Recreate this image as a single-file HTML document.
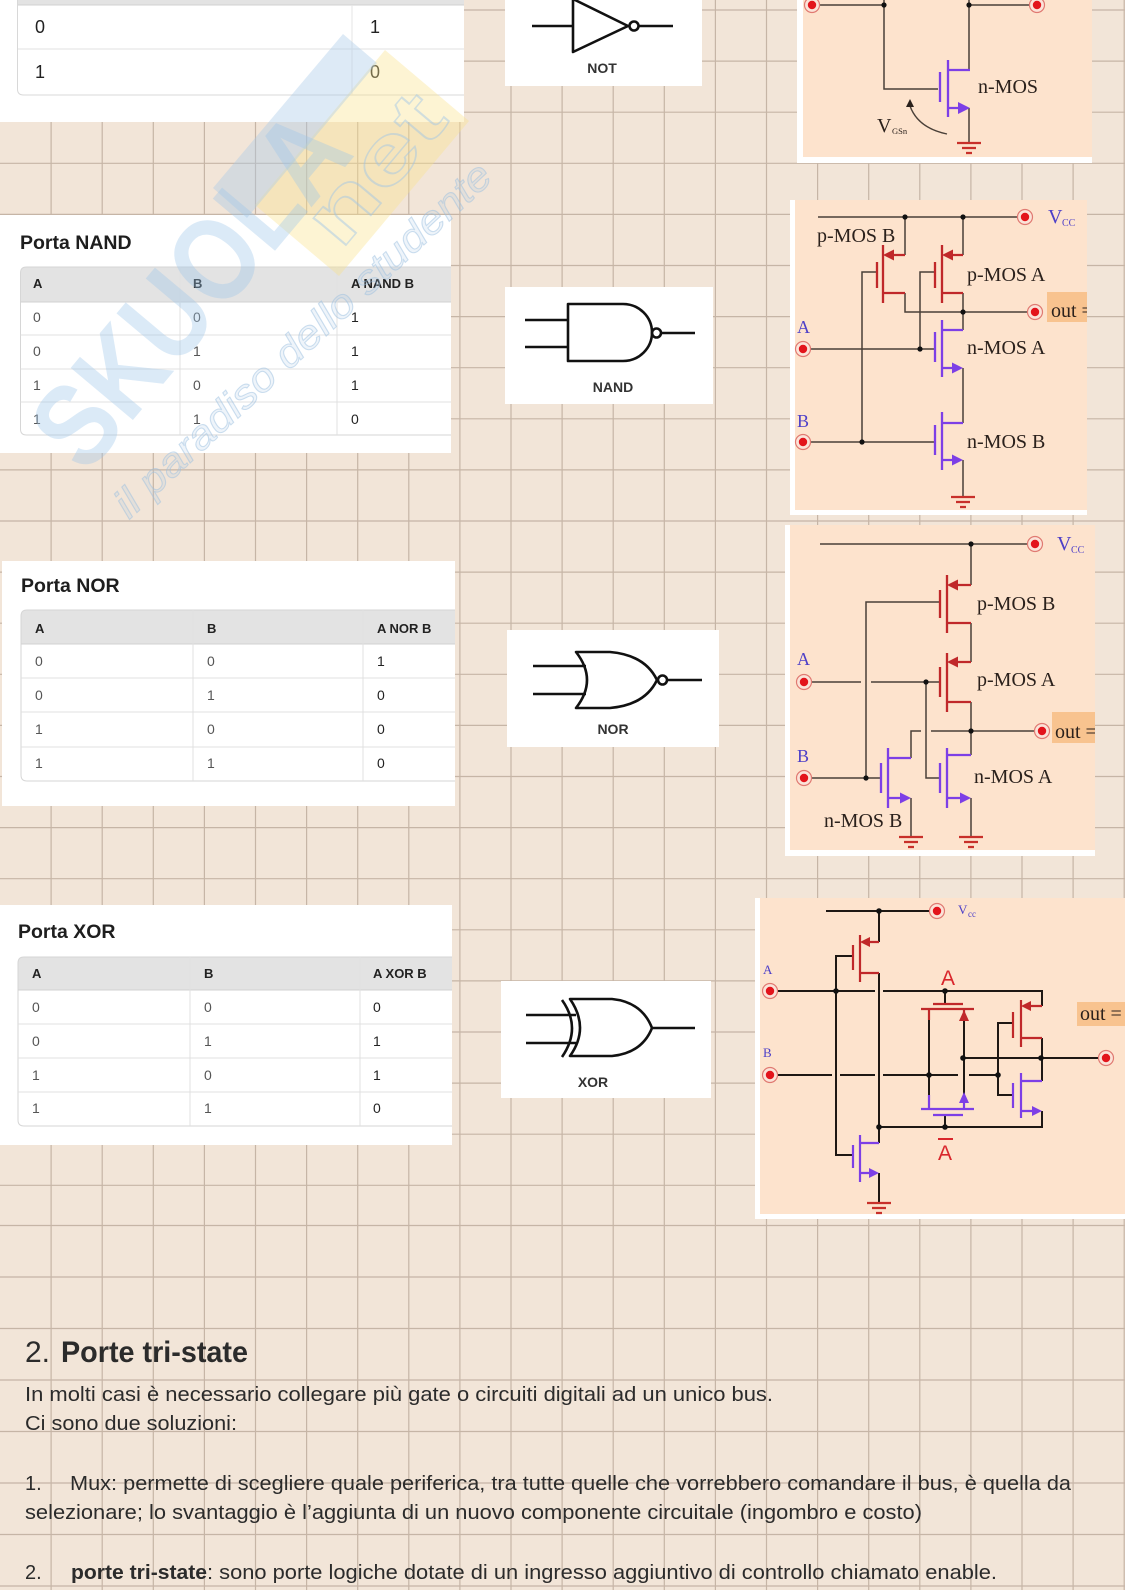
<!DOCTYPE html>
<html><head><meta charset="utf-8"><style>
html,body{margin:0;padding:0;background:#f2e5d8;}
svg{display:block}
</style></head><body>
<svg width="1125" height="1590" viewBox="0 0 1125 1590" xmlns="http://www.w3.org/2000/svg" font-family="'Liberation Sans', Arial, sans-serif">
<defs>
<g id="term"><circle r="7.5" fill="#fbe3d8" stroke="#e07a72" stroke-width="1.2"/><circle r="4.2" fill="#e3141b"/></g>
<g id="gnd"><path d="M-12,0H12M-7,5H7M-3,10H3" stroke="#c8302a" stroke-width="2.2" fill="none"/></g>
<clipPath id="c2"><rect x="795" y="200" width="292" height="310"/></clipPath>
<clipPath id="c3"><rect x="790" y="525" width="305" height="325"/></clipPath>
</defs>
<rect width="1125" height="1590" fill="#f2e5d8"/>
<g stroke="#c6b5a6" stroke-width="1.2" fill="none">
<path d="M51.1,0V1590M102.2,0V1590M153.3,0V1590M204.4,0V1590M255.5,0V1590M306.6,0V1590M357.7,0V1590M408.8,0V1590M459.9,0V1590M511,0V1590M562.1,0V1590M613.2,0V1590M664.3,0V1590M715.4,0V1590M766.5,0V1590M817.6,0V1590M868.7,0V1590M919.8,0V1590M970.9,0V1590M1022,0V1590M1073.1,0V1590M1124.2,0V1590"/>
<path d="M0,10H1125M0,61.1H1125M0,112.2H1125M0,163.3H1125M0,214.4H1125M0,265.5H1125M0,316.6H1125M0,367.7H1125M0,418.8H1125M0,469.9H1125M0,521H1125M0,572.1H1125M0,623.2H1125M0,674.3H1125M0,725.4H1125M0,776.5H1125M0,827.6H1125M0,878.7H1125M0,929.8H1125M0,980.9H1125M0,1032H1125M0,1083.1H1125M0,1134.2H1125M0,1185.3H1125"/>
<path d="M0,1225.5H1125M0,1277H1125M0,1328.5H1125M0,1380H1125M0,1431.5H1125M0,1483H1125M0,1534.5H1125M0,1586H1125"/>
</g>

<!-- NOT table -->
<rect x="0" y="0" width="464" height="122" fill="#fff"/>
<rect x="18" y="0" width="446" height="5" fill="#e3e3e3"/>
<path d="M17.5,0V89Q17.5,95 23.5,95H464" fill="none" stroke="#d8d8d8"/>
<line x1="18" y1="5" x2="464" y2="5" stroke="#d2d2d2"/>
<line x1="18" y1="49" x2="464" y2="49" stroke="#e2e2e2"/>
<line x1="352" y1="5" x2="352" y2="95" stroke="#e6e6e6"/>
<g font-size="18" fill="#222"><text x="35" y="33">0</text><text x="370" y="33">1</text><text x="35" y="78">1</text><text x="370" y="78">0</text></g>

<!-- NAND table -->
<rect x="0" y="215" width="451" height="238" fill="#fff"/>
<text x="20" y="249" font-size="19.5" font-weight="bold" fill="#1e1e1e">Porta NAND</text>
<path d="M26.5,267H451V302H20.5V273Q20.5,267 26.5,267Z" fill="#e3e3e3"/>
<path d="M451,267H26.5Q20.5,267 20.5,273V429Q20.5,435 26.5,435H451" fill="none" stroke="#d6d6d6"/>
<g stroke="#e0e0e0"><line x1="20.5" y1="302" x2="451" y2="302" stroke="#d2d2d2"/><line x1="20.5" y1="335" x2="451" y2="335"/><line x1="20.5" y1="369" x2="451" y2="369"/><line x1="20.5" y1="402" x2="451" y2="402"/><line x1="180" y1="267" x2="180" y2="435"/><line x1="337" y1="267" x2="337" y2="435"/></g>
<g font-size="13" font-weight="bold" fill="#222"><text x="33" y="288">A</text><text x="193" y="288">B</text><text x="351" y="288">A NAND B</text></g>
<g font-size="14" fill="#555"><text x="33" y="322">0</text><text x="193" y="322">0</text><text x="33" y="356">0</text><text x="193" y="356">1</text><text x="33" y="390">1</text><text x="193" y="390">0</text><text x="33" y="424">1</text><text x="193" y="424">1</text></g>
<g font-size="14" fill="#222"><text x="351" y="322">1</text><text x="351" y="356">1</text><text x="351" y="390">1</text><text x="351" y="424">0</text></g>

<!-- NOR table -->
<rect x="2" y="561" width="453" height="245" fill="#fff"/>
<text x="21" y="592" font-size="19.5" font-weight="bold" fill="#1e1e1e">Porta NOR</text>
<path d="M27,610H455V644H21V616Q21,610 27,610Z" fill="#e3e3e3"/>
<path d="M455,610H27Q21,610 21,616V775Q21,781 27,781H455" fill="none" stroke="#d6d6d6"/>
<g stroke="#e0e0e0"><line x1="21" y1="644" x2="455" y2="644" stroke="#d2d2d2"/><line x1="21" y1="678" x2="455" y2="678"/><line x1="21" y1="712" x2="455" y2="712"/><line x1="21" y1="747" x2="455" y2="747"/><line x1="193" y1="610" x2="193" y2="781"/><line x1="363" y1="610" x2="363" y2="781"/></g>
<g font-size="13" font-weight="bold" fill="#222"><text x="35" y="633">A</text><text x="207" y="633">B</text><text x="377" y="633">A NOR B</text></g>
<g font-size="14" fill="#555"><text x="35" y="666">0</text><text x="207" y="666">0</text><text x="35" y="700">0</text><text x="207" y="700">1</text><text x="35" y="734">1</text><text x="207" y="734">0</text><text x="35" y="768">1</text><text x="207" y="768">1</text></g>
<g font-size="14" fill="#222"><text x="377" y="666">1</text><text x="377" y="700">0</text><text x="377" y="734">0</text><text x="377" y="768">0</text></g>

<!-- XOR table -->
<rect x="0" y="905" width="452" height="240" fill="#fff"/>
<text x="18" y="938" font-size="19.5" font-weight="bold" fill="#1e1e1e">Porta XOR</text>
<path d="M24,957H452V990H18V963Q18,957 24,957Z" fill="#e3e3e3"/>
<path d="M452,957H24Q18,957 18,963V1120Q18,1126 24,1126H452" fill="none" stroke="#d6d6d6"/>
<g stroke="#e0e0e0"><line x1="18" y1="990" x2="452" y2="990" stroke="#d2d2d2"/><line x1="18" y1="1024" x2="452" y2="1024"/><line x1="18" y1="1058" x2="452" y2="1058"/><line x1="18" y1="1092" x2="452" y2="1092"/><line x1="190" y1="957" x2="190" y2="1126"/><line x1="360" y1="957" x2="360" y2="1126"/></g>
<g font-size="13" font-weight="bold" fill="#222"><text x="32" y="978">A</text><text x="204" y="978">B</text><text x="373" y="978">A XOR B</text></g>
<g font-size="14" fill="#555"><text x="32" y="1012">0</text><text x="204" y="1012">0</text><text x="32" y="1046">0</text><text x="204" y="1046">1</text><text x="32" y="1080">1</text><text x="204" y="1080">0</text><text x="32" y="1113">1</text><text x="204" y="1113">1</text></g>
<g font-size="14" fill="#222"><text x="373" y="1012">0</text><text x="373" y="1046">1</text><text x="373" y="1080">1</text><text x="373" y="1113">0</text></g>

<!-- Gate symbols -->
<rect x="505" y="0" width="197" height="86" fill="#fff"/>
<g stroke="#111" stroke-width="2.6" fill="none" stroke-linejoin="round">
<path d="M532,26H573M573,-1V52L628,26Z"/><circle cx="634" cy="26" r="4.5"/><path d="M638.5,26H673"/>
</g>
<text x="602" y="73" font-size="14" font-weight="bold" fill="#333" text-anchor="middle">NOT</text>

<rect x="505" y="287" width="208" height="117" fill="#fff"/>
<g stroke="#111" stroke-width="2.6" fill="none" stroke-linejoin="round">
<path d="M525,320H568M525,347H568M568,304H623A29,28.5 0 0 1 623,361H568Z"/><circle cx="656.5" cy="333" r="4.5"/><path d="M661,333H695"/>
</g>
<text x="613" y="392" font-size="14" font-weight="bold" fill="#333" text-anchor="middle">NAND</text>

<rect x="507" y="630" width="212" height="117" fill="#fff"/>
<g stroke="#111" stroke-width="2.6" fill="none" stroke-linejoin="round">
<path d="M533,666H586M533,694H586M576,652Q598,680 576,708L610,708Q645,705 657,680Q645,655 610,652Z"/><circle cx="662.5" cy="680" r="4.5"/><path d="M667,680H702"/>
</g>
<text x="613" y="734" font-size="14" font-weight="bold" fill="#333" text-anchor="middle">NOR</text>

<rect x="501" y="981" width="210" height="117" fill="#fff"/>
<g stroke="#111" stroke-width="2.6" fill="none" stroke-linejoin="round">
<path d="M526,1015H576M526,1043H576M562,1000Q582,1028 562,1057M570,999Q590,1028 570,1056L612,1056Q642,1053 652,1028Q642,1002 612,999Z"/><path d="M652,1028H695"/>
</g>
<text x="593" y="1087" font-size="14" font-weight="bold" fill="#333" text-anchor="middle">XOR</text>

<!-- Circuit 1: NOT nMOS -->
<rect x="797" y="0" width="295" height="163" fill="#fff"/>
<rect x="803" y="0" width="289" height="157" fill="#fde3cd"/>
<path d="M812,5H884M884,0V89H938M969,0V70M969,108V143M969,5H1037" stroke="#4a4038" stroke-width="1.5" fill="none"/>
<path d="M940,72V102M948,60V117M948,70H970M948,108H960" stroke="#7d3fe6" stroke-width="2.3" fill="none"/>
<polygon points="958,102 970,108 958,114" fill="#7d3fe6"/>
<use href="#gnd" x="969" y="143"/>
<circle cx="884" cy="5" r="2.6" fill="#111"/><circle cx="969" cy="5" r="2.6" fill="#111"/>
<use href="#term" x="812" y="5"/><use href="#term" x="1037" y="5"/>
<path d="M947,134Q918,128 910,106" stroke="#4a4038" stroke-width="1.4" fill="none"/>
<polygon points="906,107 910,99 914,107" fill="#2a211c"/>
<g font-family="'Liberation Serif', 'Times New Roman', serif" fill="#2b211c">
<text x="978" y="93" font-size="20">n-MOS</text>
<text x="877" y="132" font-size="20">V</text><text x="892" y="134" font-size="8.5">GSn</text>
</g>

<!-- Circuit 2: NAND CMOS -->
<rect x="790" y="200" width="297" height="315" fill="#fff"/>
<rect x="795" y="200" width="292" height="310" fill="#fde3cd"/>
<g clip-path="url(#c2)"><rect x="1047" y="292" width="45" height="30" fill="#f8c38f"/><text x="1051" y="317" font-size="20" font-family="'Liberation Serif', serif" fill="#2b211c">out =</text></g>
<path d="M818,217H1025M905,217V255M963,217V255M877,272H862V442M905,293V312H963M963,293V330M935,272H920V349M810,349H935M963,368V423M810,442H935M963,460V497M963,312H1035" stroke="#4a4038" stroke-width="1.5" fill="none"/>
<path d="M905,255H890M883,245V303M877,262V288M883,293H905M963,255H949M942,245V303M935,262V288M942,293H963" stroke="#c0282a" stroke-width="2.3" fill="none"/>
<polygon points="883,255 894,249.5 894,260.5" fill="#c0282a"/><polygon points="942,255 953,249.5 953,260.5" fill="#c0282a"/>
<path d="M963,330H942M942,320V377M935,332V362M942,368H953M963,423H942M942,412V470M935,425V455M942,460H953" stroke="#7d3fe6" stroke-width="2.3" fill="none"/>
<polygon points="952,362.5 963,368 952,373.5" fill="#7d3fe6"/><polygon points="952,454.5 963,460 952,465.5" fill="#7d3fe6"/>
<use href="#gnd" x="963" y="497"/>
<g fill="#111"><circle cx="905" cy="217" r="2.6"/><circle cx="963" cy="217" r="2.6"/><circle cx="963" cy="312" r="2.6"/><circle cx="920" cy="349" r="2.6"/><circle cx="862" cy="442" r="2.6"/></g>
<use href="#term" x="1025" y="217"/><use href="#term" x="1035" y="312"/><use href="#term" x="803" y="349"/><use href="#term" x="803" y="442"/>
<g font-family="'Liberation Serif', 'Times New Roman', serif" fill="#2b211c" font-size="20">
<text x="817" y="242">p-MOS B</text><text x="967" y="281">p-MOS A</text><text x="967" y="354">n-MOS A</text><text x="967" y="448">n-MOS B</text>
</g>
<g font-family="'Liberation Serif', serif" fill="#4d3fc8"><text x="797" y="333" font-size="18">A</text><text x="797" y="427" font-size="18">B</text><text x="1048" y="223" font-size="20">V</text><text x="1062" y="226" font-size="10">CC</text></g>

<!-- Circuit 3: NOR CMOS -->
<rect x="785" y="525" width="310" height="331" fill="#fff"/>
<rect x="790" y="525" width="305" height="325" fill="#fde3cd"/>
<g clip-path="url(#c3)"><rect x="1052" y="712" width="45" height="31" fill="#f8c38f"/><text x="1055" y="738" font-size="20" font-family="'Liberation Serif', serif" fill="#2b211c">out =</text></g>
<path d="M820,544H1035M971,544V585M940,602H866V778M971,623V662M809,682H861M871,682H940M971,702V731M911,758V731H921M931,731H971M971,731V755M926,682V778H940M971,798V837M809,778H881M911,798V837M971,731H1042" stroke="#4a4038" stroke-width="1.5" fill="none"/>
<path d="M971,585H954M947,575V633M940,590V618M947,623H971M971,662H954M947,653V712M940,667V697M947,702H971" stroke="#c0282a" stroke-width="2.3" fill="none"/>
<polygon points="947,585 958,579.5 958,590.5" fill="#c0282a"/><polygon points="947,662 958,656.5 958,667.5" fill="#c0282a"/>
<path d="M971,755H947M947,748V808M940,763V793M947,798H960M888,758H911M888,748V808M881,763V793M888,798H900" stroke="#7d3fe6" stroke-width="2.3" fill="none"/>
<polygon points="960,792.5 971,798 960,803.5" fill="#7d3fe6"/><polygon points="900,792.5 911,798 900,803.5" fill="#7d3fe6"/>
<use href="#gnd" x="971" y="837"/><use href="#gnd" x="911" y="837"/>
<g fill="#111"><circle cx="971" cy="544" r="2.6"/><circle cx="926" cy="682" r="2.6"/><circle cx="971" cy="731" r="2.6"/><circle cx="866" cy="778" r="2.6"/></g>
<use href="#term" x="1035" y="544"/><use href="#term" x="1042" y="731"/><use href="#term" x="804" y="682"/><use href="#term" x="804" y="778"/>
<g font-family="'Liberation Serif', 'Times New Roman', serif" fill="#2b211c" font-size="20">
<text x="977" y="610">p-MOS B</text><text x="977" y="686">p-MOS A</text><text x="974" y="783">n-MOS A</text><text x="824" y="827">n-MOS B</text>
</g>
<g font-family="'Liberation Serif', serif" fill="#4d3fc8"><text x="797" y="665" font-size="18">A</text><text x="797" y="762" font-size="18">B</text><text x="1057" y="550" font-size="20">V</text><text x="1071" y="553" font-size="10">CC</text></g>

<!-- Circuit 4: XOR -->
<rect x="755" y="898" width="370" height="321" fill="#fff"/>
<rect x="760" y="898" width="365" height="316" fill="#fde3cd"/>
<rect x="1077" y="1002" width="48" height="24" fill="#f8c38f"/>
<text x="1080" y="1020" font-size="20" font-family="'Liberation Serif', serif" fill="#2b211c">out =</text>
<path d="M826,911H937M879,911V942M853,956H836V1155H853M879,973V1143M777,991H875M883,991H1042V1006M1013,1023H998V1095H1013M1042,1038V1081M963,1058H1100M1042,1111V1127H879M777,1075H832M840,1075H875M883,1075H958M969,1075H998M945,991V1004M945,1115V1127M929,1020V1095M964,1020V1095M879,1173V1203" stroke="#1e1814" stroke-width="2" fill="none"/>
<path d="M879,942H867M860,935V982M853,945V970M860,973H879M1042,1006H1028M1021,1000V1047M1013,1012V1038M1021,1038H1042M921,1009H974M933,1004H963M929,1009V1020M964,1018V1009" stroke="#c0282a" stroke-width="2.2" fill="none"/>
<polygon points="860,942 870,937 870,947" fill="#c0282a"/><polygon points="1021,1006 1031,1001 1031,1011" fill="#c0282a"/><polygon points="959,1021 964,1010 969,1021" fill="#c0282a"/>
<path d="M1042,1081H1021M1021,1073V1118M1013,1083V1108M1021,1111H1032M921,1109H974M933,1115H963M929,1095V1109M964,1100V1109M879,1143H860M860,1135V1182M853,1145V1168M860,1173H869" stroke="#7d3fe6" stroke-width="2.2" fill="none"/>
<polygon points="1032,1106 1042,1111 1032,1116" fill="#7d3fe6"/><polygon points="959,1103 964,1092 969,1103" fill="#7d3fe6"/><polygon points="869,1168 879,1173 869,1178" fill="#7d3fe6"/>
<use href="#gnd" x="879" y="1203"/>
<g fill="#111"><circle cx="879" cy="911" r="2.8"/><circle cx="836" cy="991" r="2.8"/><circle cx="945" cy="991" r="2.8"/><circle cx="929" cy="1075" r="2.8"/><circle cx="998" cy="1075" r="2.8"/><circle cx="963" cy="1058" r="2.8"/><circle cx="1041" cy="1058" r="2.8"/><circle cx="879" cy="1127" r="2.8"/><circle cx="945" cy="1127" r="2.8"/></g>
<use href="#term" x="937" y="911"/><use href="#term" x="770" y="991"/><use href="#term" x="770" y="1075"/><use href="#term" x="1106" y="1058"/>
<g fill="#d9262c" font-size="21"><text x="948" y="985" text-anchor="middle">A</text><text x="945" y="1160" text-anchor="middle">A</text></g>
<line x1="938" y1="1139" x2="953" y2="1139" stroke="#d9262c" stroke-width="2"/>
<g font-family="'Liberation Serif', serif" fill="#4d3fc8"><text x="763" y="974" font-size="13">A</text><text x="763" y="1057" font-size="13">B</text><text x="958" y="914" font-size="13">V</text><text x="968" y="917" font-size="9">cc</text></g>

<!-- Bottom text -->
<g fill="#2b2b2b">
<text x="25" y="1362" font-size="30">2.</text>
<text x="61" y="1362" font-size="30" font-weight="bold" textLength="187" lengthAdjust="spacingAndGlyphs">Porte tri-state</text>
<text x="25" y="1401" font-size="20" textLength="748" lengthAdjust="spacingAndGlyphs">In molti casi è necessario collegare più gate o circuiti digitali ad un unico bus.</text>
<text x="25" y="1430" font-size="20" textLength="212" lengthAdjust="spacingAndGlyphs">Ci sono due soluzioni:</text>
<text x="25" y="1490" font-size="20">1.</text>
<text x="70" y="1490" font-size="20" textLength="1001" lengthAdjust="spacingAndGlyphs">Mux: permette di scegliere quale periferica, tra tutte quelle che vorrebbero comandare il bus, è quella da</text>
<text x="25" y="1519" font-size="20" textLength="897" lengthAdjust="spacingAndGlyphs">selezionare; lo svantaggio è l’aggiunta di un nuovo componente circuitale (ingombro e costo)</text>
<text x="25" y="1579" font-size="20">2.</text>
<text x="71" y="1579" font-size="20" font-weight="bold" textLength="136" lengthAdjust="spacingAndGlyphs">porte tri-state</text>
<text x="207" y="1579" font-size="20" textLength="790" lengthAdjust="spacingAndGlyphs">: sono porte logiche dotate di un ingresso aggiuntivo di controllo chiamato enable.</text>
</g>

<!-- Watermark -->
<polygon points="255,205 385,50 469,121 339,276" fill="#fbe38c" fill-opacity="0.38"/>
<polygon points="213,188 343,34 377,63 247,218" fill="#a9cbe8" fill-opacity="0.4"/>
<g transform="translate(86,476) rotate(-50)">
<text x="0" y="0" font-size="118" font-weight="bold" fill="#9cc4e8" fill-opacity="0.36" textLength="420" lengthAdjust="spacingAndGlyphs">SKUOLA</text>
</g>
<g transform="translate(341,251) rotate(-50)">
<text x="0" y="0" font-size="80" font-weight="bold" fill="none" stroke="#9cc4e8" stroke-opacity="0.45" stroke-width="1.5" textLength="170" lengthAdjust="spacingAndGlyphs">net</text>
</g>
<g transform="translate(129,520) rotate(-43)">
<text x="0" y="0" font-size="40" font-style="italic" fill="#a9c9e6" fill-opacity="0.2" stroke="#9cc0e0" stroke-opacity="0.5" stroke-width="1" textLength="500" lengthAdjust="spacingAndGlyphs">il paradiso dello studente</text>
</g>
</svg>
</body></html>
